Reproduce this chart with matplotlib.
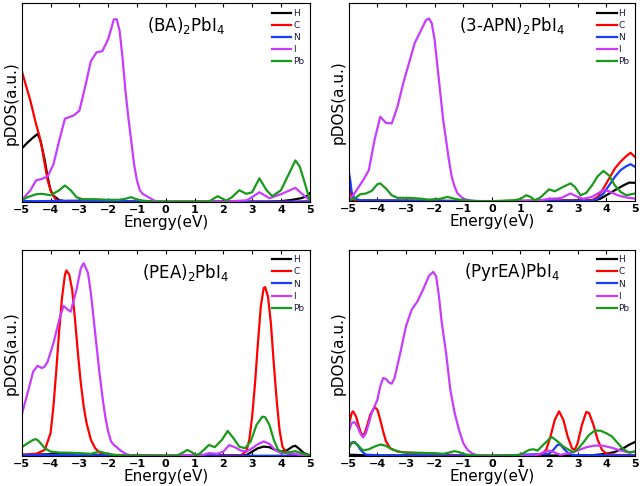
import matplotlib.pyplot as plt

# pDOS, arbitrary units (0-100 = axis height)
elements = ['H', 'C', 'N', 'I', 'Pb']
colors = ['#000000', '#ff0000', '#1a3cff', '#c83cff', '#1a9a1a']

# ---- (BA)2PbI4
ba_H_x = [-5, -4.8, -4.6, -4.45, -4.35, -4.2, -4.1, -4.0, -3.9, -3.7, -3.5, 0, 3.6, 4.0, 4.4, 4.7, 4.9, 5.0]
ba_H_y = [27, 30, 32.6, 34.3, 31, 21, 12.5, 6, 3.3, 1, 0.5, 0.3, 0.3, 0.5, 1.2, 2, 3, 4.5]
ba_C_x = [-5, -4.9, -4.7, -4.5, -4.4, -4.3, -4.2, -4.1, -4.0, -3.9, -3.8, -3.6, 0, 4.5, 5.0]
ba_C_y = [66, 61, 51, 39, 34, 27.6, 19, 11, 6, 3, 1, 0.3, 0, 0.3, 0.5]
ba_N_x = [-5, -4.5, -3.0, -2.0, -1.0, 0, 5.0]
ba_N_y = [0.6, 0.5, 0.8, 0.5, 0.3, 0, 0.2]
ba_I_x = [-5, -4.7, -4.5, -4.3, -4.1, -3.9, -3.7, -3.5, -3.2, -3.0, -2.8, -2.6, -2.4, -2.2, -2.0, -1.8,
          -1.7, -1.6, -1.5, -1.4, -1.3, -1.2, -1.1, -1.0, -0.9, -0.8, -0.6, -0.4, -0.2, 0, 2.0, 2.4, 2.8,
          3.0, 3.25, 3.6, 4.0, 4.5, 4.8, 5.0]
ba_I_y = [1, 6, 11, 11.7, 13, 19, 31, 42, 43.6, 46, 58, 71, 75.4, 76, 82, 92,
          92, 86, 72.5, 56, 42.7, 31, 19, 11, 6, 4.2, 2.5, 0.8, 0.2, 0, 0, 0.6, 0.9,
          2.5, 5, 2, 4, 7.2, 3.3, 1]
ba_Pb_x = [-5, -4.8, -4.5, -4.3, -4.0, -3.7, -3.5, -3.3, -3.1, -2.9, -2.5, -2.0, -1.6, -1.4, -1.2, -1.0,
           -0.8, -0.5, 0, 1.4, 1.5, 1.8, 2.1, 2.3, 2.55, 2.8, 3.0, 3.25, 3.5, 3.7, 4.0, 4.3, 4.5, 4.65,
           4.8, 5.0]
ba_Pb_y = [1, 2.5, 4, 4.2, 3.5, 6, 8.4, 6, 2.5, 1.5, 1.5, 1.2, 1.2, 1.7, 2.5, 1.3,
           0.8, 0.3, 0, 0.1, 0.3, 3, 0.8, 2.5, 6, 4.2, 5, 12, 6, 3, 6, 15, 21, 18,
           11, 1]

# ---- (3-APN)2PbI4
apn_H_x = [-5, -4.8, 0, 3.6, 3.8, 4.0, 4.2, 4.4, 4.6, 4.8, 5.0]
apn_H_y = [0.5, 0.3, 0, 0.5, 1.3, 3, 4.7, 6.4, 8, 9.4, 9.3]
apn_C_x = [-5, -4.9, -4.8, -4.5, 0, 3.5, 3.7, 3.9, 4.1, 4.3, 4.5, 4.7, 4.85, 5.0]
apn_C_y = [8, 2.2, 0.5, 0.3, 0, 0.5, 2.2, 6.4, 11.5, 16.5, 20, 22.8, 24.5, 22.4]
apn_N_x = [-5, -4.95, -4.9, -4.8, -4.6, 0, 3.5, 3.7, 3.9, 4.1, 4.3, 4.5, 4.7, 4.85, 5.0]
apn_N_y = [14.8, 10.6, 4.7, 1.3, 0.5, 0, 0.3, 1.3, 3.9, 8, 12.3, 15.7, 17.7, 18.7, 17.4]
apn_I_x = [-5, -4.8, -4.5, -4.3, -4.1, -3.9, -3.7, -3.5, -3.3, -3.1, -2.9, -2.7, -2.5, -2.3, -2.2, -2.1,
           -2.0, -1.9, -1.8, -1.7, -1.6, -1.5, -1.4, -1.3, -1.2, -1.0, -0.8, -0.6, 1.5, 2.0, 2.4, 2.75,
           3.0, 3.2, 3.5, 3.9, 4.1, 4.4, 4.7, 5.0]
apn_I_y = [0.5, 4, 10.6, 15.7, 31, 42.7, 39.6, 39.3, 47.7, 59.5, 69.6, 79.8, 85.7, 91.6, 92.4, 90,
           81.5, 68, 54.5, 41, 31, 20.7, 12.3, 7.3, 3.9, 1.3, 0.5, 0, 0, 1.2, 1.5, 3.9,
           2.2, 1.2, 2.2, 5.6, 5, 3, 1.9, 1.3]
apn_Pb_x = [-5, -4.8, -4.6, -4.4, -4.2, -4.0, -3.9, -3.7, -3.5, -3.3, -2.9, -2.5, -2.2, -1.8, -1.55, -1.3,
            -1.0, -0.5, 0, 0.8, 1.0, 1.2, 1.35, 1.5, 1.7, 2.0, 2.2, 2.5, 2.75, 2.9, 3.1, 3.3, 3.5, 3.7,
            3.9, 4.1, 4.3, 4.5, 4.7, 5.0]
apn_Pb_y = [0.5, 1.3, 3.5, 3.9, 5.2, 8.6, 9, 6.4, 3, 1.7, 1.7, 1.3, 0.8, 1.2, 2.2, 1.2,
            0.5, 0.1, 0, 0.5, 1.2, 3, 2.2, 0.5, 1.9, 6, 5, 7.3, 9, 7.3, 3, 4.2, 8, 12.6,
            15.3, 13, 8, 4.7, 3, 3.9]

# ---- (PEA)2PbI4
pea_H_x = [-5, -4.0, -3.5, -3.0, -2.0, 0, 2.8, 3.0, 3.2, 3.4, 3.6, 3.8, 4.0, 4.2, 4.4, 4.5, 4.65, 4.8, 5.0]
pea_H_y = [0.5, 0.8, 1.3, 0.8, 0.3, 0, 0.3, 2.1, 3.7, 4.5, 4.2, 2.9, 2.1, 2.6, 4.5, 4.9, 3.2, 1.3, 0.3]
pea_C_x = [-5, -4.5, -4.2, -4.0, -3.9, -3.8, -3.7, -3.6, -3.5, -3.45, -3.35, -3.25, -3.15, -3.05, -2.95,
           -2.85, -2.75, -2.6, -2.45, -2.3, -2.0, 0, 2.6, 2.8, 2.9, 3.0, 3.1, 3.2, 3.3, 3.4, 3.45, 3.55,
           3.65, 3.75, 3.85, 3.95, 4.05, 4.2, 4.4, 5.0]
pea_C_y = [0.5, 1, 2.9, 11, 24, 41.7, 61, 77, 87.9, 90, 87.9, 80.6, 66, 49.8, 35.3,
           24, 15.9, 7.8, 3.7, 1.6, 0.5, 0, 0.3, 2.1, 7.8, 19, 35.3, 54.7, 72.5, 81.4, 81.9, 77.3,
           64.4, 45, 27.2, 12.6, 4.5, 1.3, 0.5, 0.3]
pea_N_x = [-5, -4.0, -3.0, -2.0, 0, 5.0]
pea_N_y = [0.3, 0.4, 0.4, 0.2, 0, 0.1]
pea_I_x = [-5, -4.8, -4.6, -4.45, -4.3, -4.2, -4.1, -3.9, -3.7, -3.55, -3.4, -3.3, -3.1, -2.95, -2.85, -2.7,
           -2.6, -2.5, -2.4, -2.3, -2.2, -2.1, -2.0, -1.9, -1.8, -1.7, -1.6, -1.4, -1.2, 0, 1.3, 1.5,
           1.8, 2.0, 2.2, 2.4, 2.6, 2.8, 3.0, 3.2, 3.4, 3.6, 3.8, 4.0, 4.3, 4.5, 4.7, 5.0]
pea_I_y = [20, 30.4, 41, 43.7, 42.6, 43.4, 45.8, 54.7, 66, 72.8, 70.9, 70, 80.6, 91, 93.5, 88.7,
           79, 66, 53, 40, 28.8, 19, 11.8, 7, 5.3, 4.2, 2.9, 1, 0.2, 0, 0.5, 1.3,
           1, 2.1, 5.2, 4.2, 2.6, 2.1, 3.7, 5.7, 7, 5.8, 2.9, 1.3, 1.3, 1, 0.3, 0]
pea_Pb_x = [-5, -4.8, -4.6, -4.5, -4.4, -4.2, -4.0, -3.7, -3.3, -3.0, -2.6, -2.3, -2.1, -1.8, -1.5, 0,
            0.4, 0.6, 0.75, 0.9, 1.05, 1.2, 1.5, 1.7, 1.95, 2.15, 2.35, 2.55, 2.75, 2.95, 3.15, 3.35,
            3.45, 3.6, 3.75, 3.9, 4.1, 4.3, 4.5, 4.7, 5.0]
pea_Pb_y = [4.2, 6.1, 7.8, 8.1, 7, 3.7, 2.1, 1.6, 1.5, 1.3, 1, 2.1, 1.3, 0.5, 0.2, 0,
            0.2, 1.6, 2.9, 1.8, 0.3, 1.3, 5.3, 4.2, 7.8, 12.1, 8.6, 4.5, 3.7, 7, 15, 19,
            18.8, 15, 7.8, 2.9, 1.6, 1.8, 2.3, 1.3, 0.3]

# ---- (PyrEA)PbI4
pyr_H_x = [-5, -4.8, -4.5, 0, 3.5, 4.0, 4.3, 4.6, 4.8, 5.0]
pyr_H_y = [0.5, 0.5, 0.3, 0, 0.3, 1, 1.9, 3.7, 5.4, 6.7]
pyr_C_x = [-5, -4.9, -4.85, -4.75, -4.65, -4.55, -4.45, -4.35, -4.25, -4.1, -4.0, -3.9, -3.8, -3.7, -3.55,
           -3.3, -3.0, -2.5, -2.0, -1.5, -1.0, 0, 1.7, 1.9, 2.05, 2.2, 2.35, 2.5, 2.65, 2.8, 2.9, 3.0,
           3.15, 3.3, 3.4, 3.55, 3.7, 3.85, 4.0, 4.3, 5.0]
pyr_C_y = [15, 20.8, 21.6, 19.2, 14.3, 10.2, 10.7, 15.1, 20, 23.7, 22.4, 17.5, 11.9, 7, 3.7,
           2.1, 1.6, 1.3, 1, 0.5, 0.2, 0, 0.3, 2.9, 9.4, 17.5, 21.6, 17.5, 9.4, 3.7, 2.9, 6.2,
           15.1, 21.3, 20.8, 15.1, 7.8, 2.9, 1, 0.5, 0.3]
pyr_N_x = [-5, -4.9, -4.8, -4.7, -4.6, -4.5, -4.4, -4.0, 0, 2.0, 2.15, 2.3, 2.4, 2.5, 2.65, 2.8, 3.0, 5.0]
pyr_N_y = [4.5, 6.5, 6.7, 5.4, 3.2, 1.6, 0.6, 0.3, 0, 1, 2.9, 5.4, 5.4, 3.7, 1.6, 0.5, 0.3, 0.2]
pyr_I_x = [-5, -4.9, -4.8, -4.7, -4.6, -4.5, -4.4, -4.3, -4.2, -4.1, -4.0, -3.9, -3.8, -3.7, -3.6, -3.5,
           -3.4, -3.2, -3.0, -2.8, -2.6, -2.4, -2.2, -2.05, -1.95, -1.85, -1.75, -1.6, -1.45, -1.3, -1.15,
           -1.0, -0.85, -0.7, -0.5, 0, 1.5, 1.8, 2.0, 2.2, 2.4, 2.7, 3.0, 3.3, 3.6, 3.9, 4.2, 4.5, 4.8, 5.0]
pyr_I_y = [11.9, 15.9, 16.4, 14.3, 11, 8.9, 11, 15.9, 20.8, 24, 27.3, 33.8, 37.8, 37.3, 35.7, 35,
           37.8, 50, 63, 71, 75, 80.8, 87.3, 89.3, 87.3, 77.6, 64.6, 50, 32, 20.8, 12.7,
           6.2, 2.9, 1.3, 0.2, 0, 0.2, 1.6, 2.6, 1.6, 0.5, 1.3, 2.6, 4.2, 5, 4.9, 3.9, 2.6, 1.6, 2.1]
pyr_Pb_x = [-5, -4.9, -4.8, -4.7, -4.5, -4.3, -4.1, -3.9, -3.7, -3.5, -3.2, -3.0, -2.5, -2.0, -1.7, -1.5,
            -1.3, -1.1, -0.9, -0.5, 0, 0.9, 1.1, 1.3, 1.45, 1.6, 1.8, 2.0, 2.1, 2.3, 2.5, 2.7, 2.85,
            3.0, 3.2, 3.4, 3.6, 3.8, 4.0, 4.2, 4.4, 4.6, 4.8, 5.0]
pyr_Pb_y = [3.7, 6.2, 6.5, 5.4, 2.6, 3.2, 4.5, 5.5, 4.9, 3.2, 1.9, 1.6, 1.5, 1.3, 1, 1.6,
            2.3, 1.6, 0.6, 0.2, 0, 0.3, 1.3, 2.9, 3.2, 2.6, 5.4, 8.1, 9.1, 7, 4.5, 2.9, 1.8,
            3.2, 6.5, 10.2, 12.3, 12.2, 11, 9.4, 6.2, 3.2, 1.6, 2.1]

panels = [
    ('(BA)$_2$PbI$_4$', [(ba_H_x, ba_H_y), (ba_C_x, ba_C_y), (ba_N_x, ba_N_y), (ba_I_x, ba_I_y), (ba_Pb_x, ba_Pb_y)]),
    ('(3-APN)$_2$PbI$_4$', [(apn_H_x, apn_H_y), (apn_C_x, apn_C_y), (apn_N_x, apn_N_y), (apn_I_x, apn_I_y), (apn_Pb_x, apn_Pb_y)]),
    ('(PEA)$_2$PbI$_4$', [(pea_H_x, pea_H_y), (pea_C_x, pea_C_y), (pea_N_x, pea_N_y), (pea_I_x, pea_I_y), (pea_Pb_x, pea_Pb_y)]),
    ('(PyrEA)PbI$_4$', [(pyr_H_x, pyr_H_y), (pyr_C_x, pyr_C_y), (pyr_N_x, pyr_N_y), (pyr_I_x, pyr_I_y), (pyr_Pb_x, pyr_Pb_y)]),
]

# axes boxes in figure fractions
boxes = [
    [0.034, 0.584, 0.450, 0.409],
    [0.545, 0.586, 0.447, 0.407],
    [0.034, 0.062, 0.450, 0.424],
    [0.545, 0.062, 0.447, 0.424],
]

plt.rcParams['mathtext.default'] = 'regular'
fig = plt.figure(figsize=(6.4, 4.86), dpi=100)

for (title, series), box in zip(panels, boxes):
    ax = fig.add_axes(box)
    for name, col, (xs, ys) in zip(elements, colors, series):
        ax.plot(xs, ys, color=col, lw=1.6, label=name)
    ax.set_xlim(-5, 5)
    ax.set_ylim(0, 100)
    ax.set_xticks(range(-5, 6))
    ax.set_yticks([])
    ax.tick_params(axis='x', direction='in', top=True, length=3, width=0.8, pad=2, labelsize=8)
    for lab in ax.get_xticklabels():
        lab.set_fontweight('bold')
    ax.set_xlabel('Energy(eV)', fontsize=11, labelpad=0)
    ax.set_ylabel('pDOS(a.u.)', fontsize=11, labelpad=2)
    ax.text(0.57, 0.89, title, transform=ax.transAxes, ha='center', va='center', fontsize=12)
    leg = ax.legend(loc='upper right', frameon=False, fontsize=6.5, handlelength=2.2,
                    handletextpad=0.2, labelspacing=0.35, borderaxespad=0.2)
    for t in leg.get_texts():
        t.set_color('#1a1a40')
    for sp in ax.spines.values():
        sp.set_linewidth(0.8)

fig.savefig('out.png', dpi=100)
